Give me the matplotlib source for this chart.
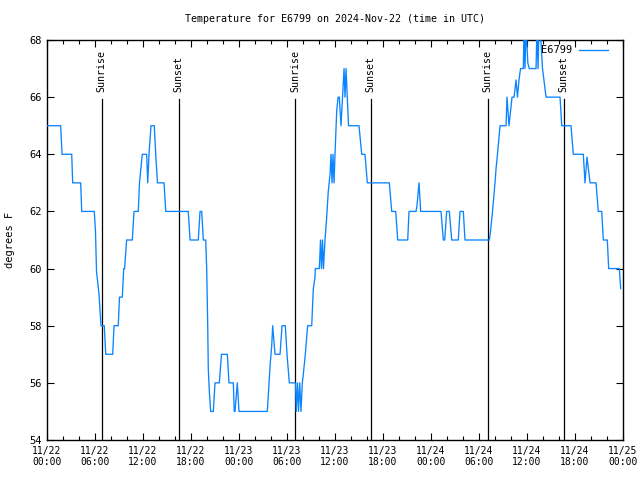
import matplotlib
matplotlib.use("Agg")
import matplotlib.pyplot as plt
from matplotlib.ticker import MultipleLocator

# hours since 2024-11-22 00:00 UTC and temperature (F)
hours = [0.00, 1.71, 1.88, 3.09, 3.21, 4.21, 4.34, 5.91, 6.06, 6.19, 6.34, 6.50, 6.63, 6.75,
         7.16, 7.34, 8.21, 8.38, 8.91, 9.06, 9.41, 9.59, 9.70, 9.95, 10.66, 10.88, 11.41, 11.56,
         11.91, 12.46, 12.59, 12.75, 13.00, 13.41, 13.59, 13.81, 14.63, 14.84, 17.66, 17.88,
         18.91, 19.13, 19.34, 19.44, 19.54, 19.84, 19.96, 20.09, 20.16, 20.29, 20.46, 20.79,
         21.00, 21.54, 21.81, 22.54, 22.75, 23.29, 23.41, 23.50, 23.79, 24.00, 27.54, 27.75,
         27.91, 28.09, 28.21, 28.50, 29.13, 29.38, 29.79, 30.00, 30.29, 31.00, 31.06, 31.16,
         31.31, 31.44, 31.59, 31.75, 31.91, 32.04, 32.29, 32.58, 33.09, 33.29, 33.50, 33.54,
         34.04, 34.19, 34.31, 34.44, 34.56, 34.75, 34.96, 35.16, 35.38, 35.50, 35.63, 35.75,
         35.88, 36.00, 36.21, 36.38, 36.54, 36.75, 36.94, 37.13, 37.25, 37.38, 37.69, 39.00,
         39.34, 39.75, 40.04, 42.79, 43.09, 43.59, 43.84, 45.09, 45.25, 46.13, 46.25, 46.50,
         46.71, 49.25, 49.54, 49.71, 49.96, 50.29, 50.59, 51.41, 51.63, 52.04, 52.25, 55.29,
         55.44, 55.69, 56.00, 56.13, 56.31, 56.63, 57.38, 57.50, 57.75, 58.13, 58.38, 58.63,
         58.81, 59.00, 59.19, 59.54, 59.63, 59.75, 59.88, 60.10, 60.29, 61.13, 61.25, 61.38,
         61.50, 61.63, 61.94, 62.38, 64.13, 64.34, 65.50, 65.79, 67.04, 67.25, 67.50, 67.88,
         68.63, 68.91, 69.34, 69.54, 70.04, 70.21, 71.54, 71.71]
temps = [65, 65, 64, 64, 63, 63, 62, 62, 61.3, 59.9, 59.5, 59.1, 58.5, 58,
         58, 57, 57, 58, 58, 59, 59, 60, 60, 61, 61, 62, 62, 63,
         64, 64, 63, 64, 65, 65, 64, 63, 63, 62, 62, 61,
         61, 62, 62, 61.5, 61, 61, 60, 58, 56.5, 55.7, 55, 55,
         56, 56, 57, 57, 56, 56, 55, 55, 56, 55, 55, 56,
         56.7, 57.3, 58, 57, 57, 58, 58, 57, 56, 56, 56, 55,
         56, 55, 56, 55, 56, 56.3, 57, 58, 58, 59.3, 59.7, 60,
         60, 61, 60, 61, 60, 61, 61.8, 62.7, 63.3, 64, 63, 64,
         63, 64, 65.5, 66, 66, 65, 66, 67, 66, 67, 65, 65,
         64, 64, 63, 63, 62, 62, 61, 61, 62, 62, 62.2, 63,
         62, 62, 61, 61, 62, 62, 61, 61, 62, 62, 61, 61,
         61.3, 62, 63, 63.5, 64, 65, 65, 66, 65, 66, 66, 66.6,
         66, 66.6, 67, 67, 68.5, 67, 68.5, 67.2, 67, 67, 68.5, 67,
         68.5, 68.5, 67, 66, 66, 65, 65, 64, 64, 63, 63.9, 63,
         63, 62, 62, 61, 61, 60, 60, 59.3]

sun_hours = [6.84, 16.44, 30.99, 40.44, 55.10, 64.60]
sun_labels = ["Sunrise", "Sunset", "Sunrise", "Sunset", "Sunrise", "Sunset"]

xtick_labels = ["11/22\n00:00", "11/22\n06:00", "11/22\n12:00", "11/22\n18:00",
                "11/23\n00:00", "11/23\n06:00", "11/23\n12:00", "11/23\n18:00",
                "11/24\n00:00", "11/24\n06:00", "11/24\n12:00", "11/24\n18:00",
                "11/25\n00:00"]

plt.rcParams['font.family'] = ['DejaVu Sans Mono']
FS = 7

fig = plt.figure(figsize=(6.4, 4.8), dpi=100)
ax = fig.add_axes([47/640, 40/480, 576/640, 400/480])

for h, lab in zip(sun_hours, sun_labels):
    ax.plot([h, h], [0, (440-99)/400], color='black', lw=0.9,
            transform=ax.get_xaxis_transform(), zorder=2)
    ax.text(h, (440-92)/400, lab, rotation=90, ha='center', va='bottom',
            fontsize=FS+0.2, transform=ax.get_xaxis_transform())

ax.plot(hours, temps, color='#0a84ff', lw=0.95, label='E6799', zorder=3)

ax.set_xlim(0, 72)
ax.set_ylim(54, 68)
ax.set_xticks(range(0, 73, 6))
ax.set_xticklabels(xtick_labels, fontsize=FS)
ax.xaxis.set_minor_locator(MultipleLocator(2))
ax.set_yticks(range(54, 69, 2))
ax.set_yticklabels([str(v) for v in range(54, 69, 2)], fontsize=FS+0.5)
ax.tick_params(axis='both', which='major', direction='in', length=5, width=0.8,
               top=True, right=True, pad=4)
ax.tick_params(axis='x', which='minor', direction='in', length=3, width=0.8, top=True)
for s in ax.spines.values():
    s.set_linewidth(1.0)

ax.set_ylabel('degrees F', fontsize=FS+0.5, labelpad=10)
fig.text(335/640, 1-19/480, 'Temperature for E6799 on 2024-Nov-22 (time in UTC)',
         ha='center', va='center', fontsize=FS+0.2)

leg = ax.legend(loc='upper right', bbox_to_anchor=((613-47)/576, 1.0), frameon=False,
                fontsize=FS+0.5, markerfirst=False, handlelength=2.8,
                borderaxespad=0.1, handletextpad=0.6)

fig.savefig('out.png', dpi=100)
